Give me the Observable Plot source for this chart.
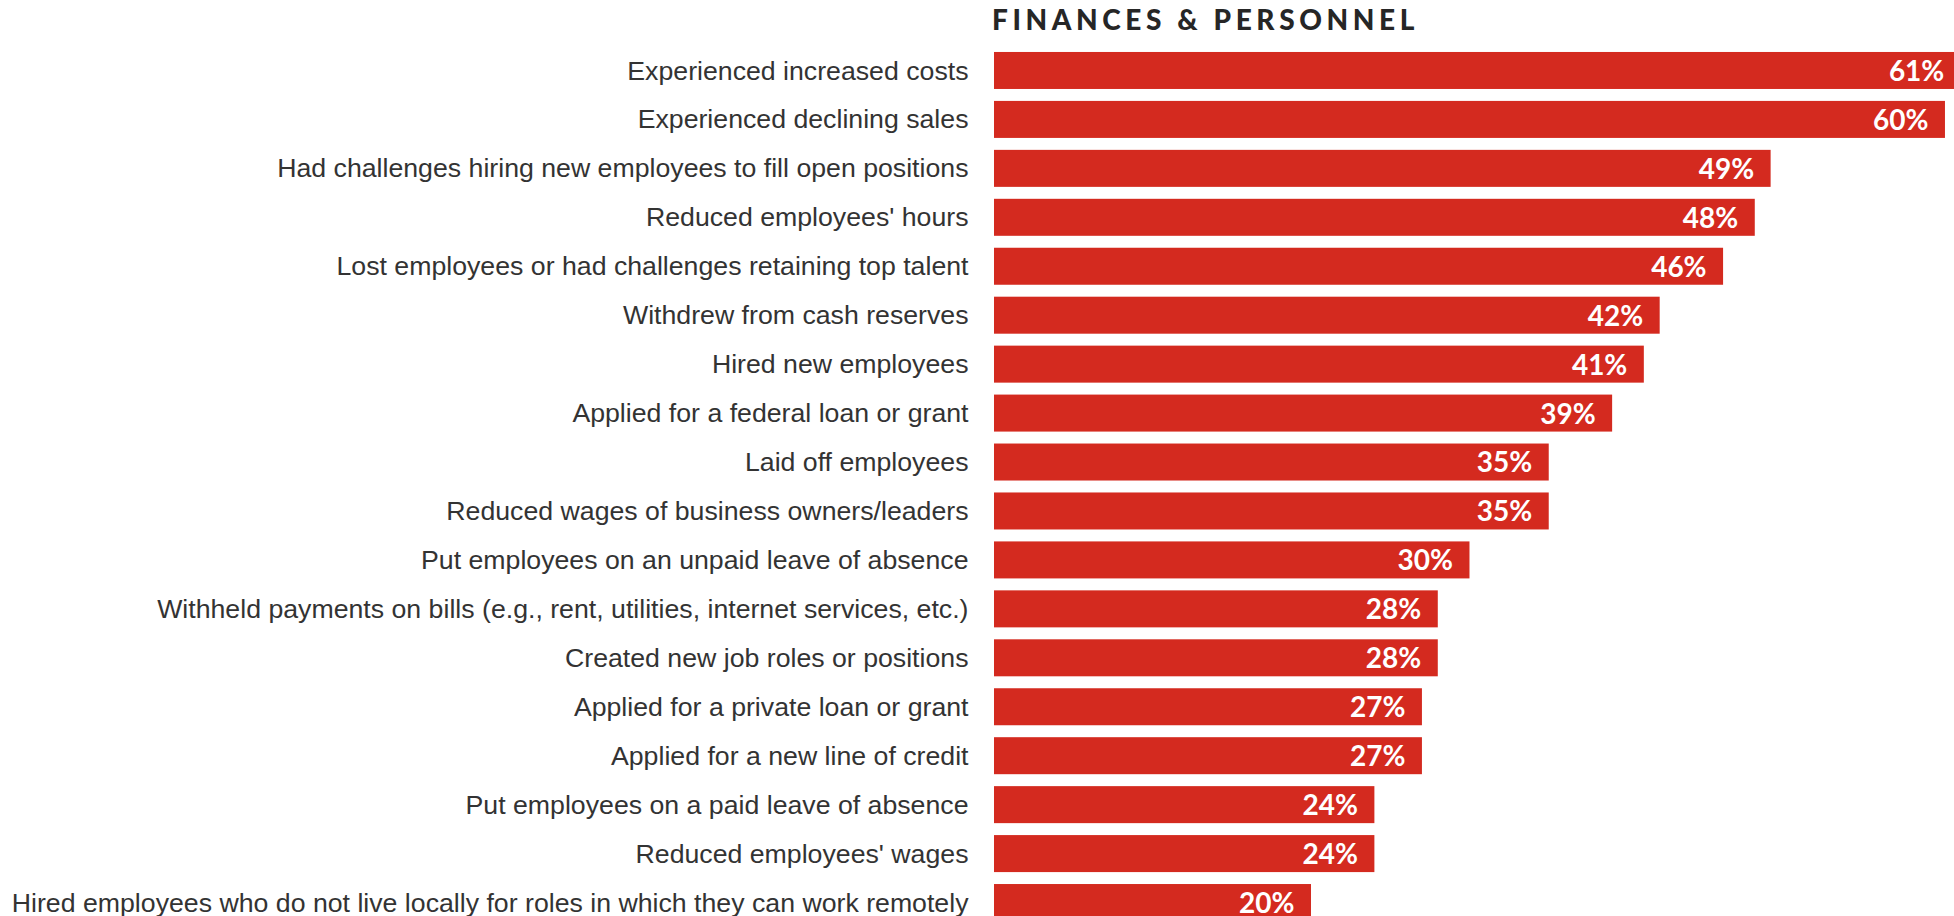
<!DOCTYPE html>
<html>
<head>
<meta charset="utf-8">
<script src="https://cdn.jsdelivr.net/npm/d3@7"></script>
<script src="https://cdn.jsdelivr.net/npm/@observablehq/plot@0.6"></script>
<style>
  html, body { margin: 0; padding: 0; background: #fff; overflow: hidden; }
  #title {
    height: 40px; box-sizing: border-box; padding-top: 5px; padding-left: 992px;
    font-family: Lato, "Open Sans", sans-serif; font-weight: 900; font-size: 28px;
    line-height: 28px; letter-spacing: 4.6px; color: #262626; white-space: nowrap;
  }
</style>
</head>
<body>
<div id="title">FINANCES &amp; PERSONNEL</div>
<div id="chart"></div>
<script>
const categories = [
  "Experienced increased costs",
  "Experienced declining sales",
  "Had challenges hiring new employees to fill open positions",
  "Reduced employees' hours",
  "Lost employees or had challenges retaining top talent",
  "Withdrew from cash reserves",
  "Hired new employees",
  "Applied for a federal loan or grant",
  "Laid off employees",
  "Reduced wages of business owners/leaders",
  "Put employees on an unpaid leave of absence",
  "Withheld payments on bills (e.g., rent, utilities, internet services, etc.)",
  "Created new job roles or positions",
  "Applied for a private loan or grant",
  "Applied for a new line of credit",
  "Put employees on a paid leave of absence",
  "Reduced employees' wages",
  "Hired employees who do not live locally for roles in which they can work remotely"
];
const values = [61, 60, 49, 48, 46, 42, 41, 39, 35, 35, 30, 28, 28, 27, 27, 24, 24, 20];

const data = categories.map((c, i) => ({category: c, value: values[i]}));

const chart = Plot.plot({
  width: 1954,
  height: 887,
  marginLeft: 994,
  marginRight: 0,
  marginTop: 6,
  marginBottom: 0,
  style: {background: "#fff", color: "#333", overflow: "hidden"},
  x: {domain: [0, 60.57], axis: null},
  y: {domain: categories, paddingInner: 0.244, paddingOuter: 0.122, align: 0.5, round: false, label: null},
  marks: [
    Plot.barX(data, {x: "value", y: "category", fill: "#d42a1f", clip: true}),
    Plot.text(data, {
      x: "value", y: "category", text: d => `${d.value}%`,
      textAnchor: "end", dx: -17, dy: 1, fill: "#fff",
      fontFamily: "Lato, 'Open Sans', sans-serif", fontWeight: 700, fontSize: 28
    }),
    Plot.axisY({
      tickSize: 0, tickPadding: 26, label: null,
      fontSize: 26.7, fontFamily: "'Liberation Sans', Arial, sans-serif", fill: "#333"
    })
  ]
});
document.getElementById("chart").appendChild(chart);
</script>
</body>
</html>
